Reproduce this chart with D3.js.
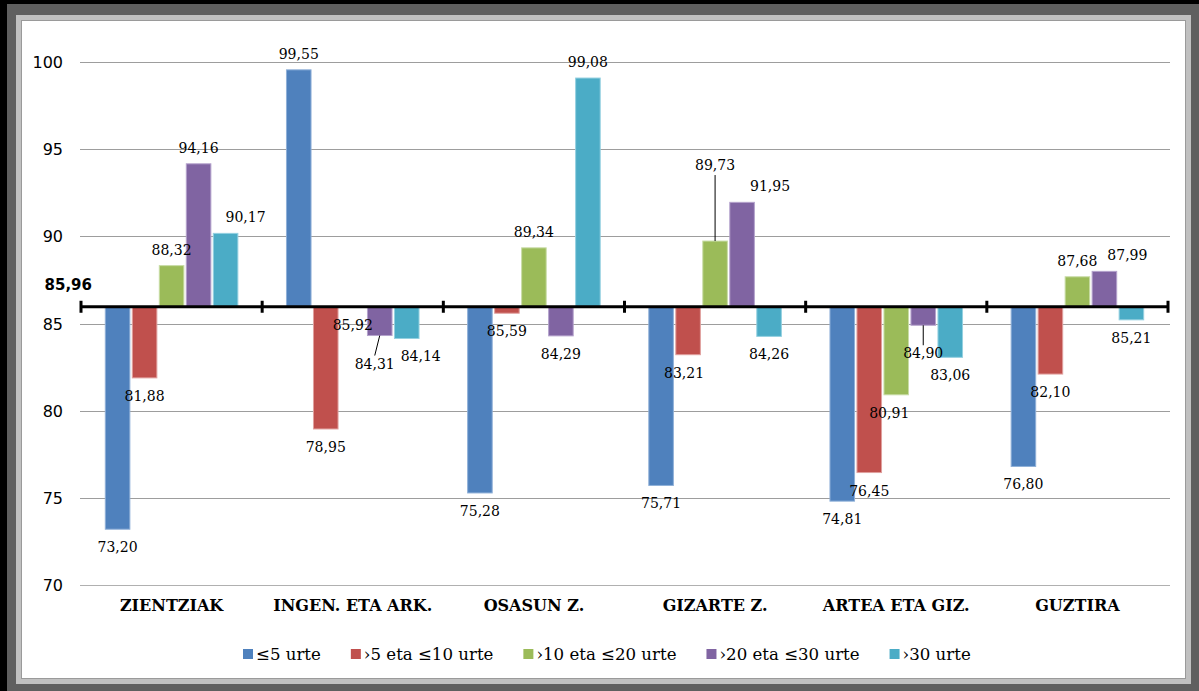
<!DOCTYPE html>
<html><head><meta charset="utf-8">
<script src="https://cdn.jsdelivr.net/npm/d3@7/dist/d3.min.js"></script>
<style>
html,body{margin:0;padding:0;background:#5f5f5f;}
svg{display:block;}
</style></head>
<body>
<script>
// ---------- DATA ----------
const categories = ["ZIENTZIAK", "INGEN. ETA ARK.", "OSASUN Z.", "GIZARTE Z.", "ARTEA ETA GIZ.", "GUZTIRA"];
const seriesNames = ["≤5 urte", "›5 eta ≤10 urte", "›10 eta ≤20 urte", "›20 eta ≤30 urte", "›30 urte"];
const valuesLe5   = [73.20, 99.55, 75.28, 75.71, 74.81, 76.80];
const values5to10 = [81.88, 78.95, 85.59, 83.21, 76.45, 82.10];
const values10to20= [88.32, 85.92, 89.34, 89.73, 80.91, 87.68];
const values20to30= [94.16, 84.31, 84.29, 91.95, 84.90, 87.99];
const valuesGt30  = [90.17, 84.14, 99.08, 84.26, 83.06, 85.21];
const baselineValue = 85.96;
const yTicks = [70, 75, 80, 85, 90, 95, 100];

// ---------- STYLE ----------
const colors = ["#4F81BD", "#C0504D", "#9BBB59", "#8064A2", "#4BACC6"];
const strokes = ["#8fb0d8", "#e0a09e", "#c8dca6", "#b4a2cc", "#94d0e0"];
// label nudges [dx, dy, leader]
const labelNudge = {
  "0-4": [20, 0], "1-3": [-5, 10, true], "1-4": [14, 0],
  "3-1": [-4, 0], "3-2": [0, -60, true], "3-3": [28, 0],
  "4-2": [-7, 0], "4-3": [0, 10, true], "5-3": [23, 0]
};

const W = 1199, H = 691;
const seriesValues = [valuesLe5, values5to10, values10to20, values20to30, valuesGt30];

const svg = d3.select("body").append("svg").attr("width", W).attr("height", H);

// frame
svg.append("rect").attr("x",0).attr("y",0).attr("width",W).attr("height",H).attr("fill","#5f5f5f");
svg.append("rect").attr("x",0).attr("y",0).attr("width",7).attr("height",H).attr("fill","#000");
svg.append("rect").attr("x",0).attr("y",0).attr("width",W).attr("height",4).attr("fill","#000");
svg.append("rect").attr("x",16).attr("y",15).attr("width",1175).attr("height",669).attr("fill","#c0c0c0");
svg.append("rect").attr("x",21.5).attr("y",20.5).attr("width",1164).attr("height",658)
  .attr("fill","#fff").attr("stroke","#9a9a9a").attr("stroke-width",1);

const x0 = d3.scaleBand().domain(categories).range([81, 1168]);
const x1 = d3.scaleBand().domain(d3.range(seriesNames.length)).range([0, x0.bandwidth()])
  .paddingInner(0.09).paddingOuter(0.9);
const y = d3.scaleLinear().domain([70, 100]).range([585, 62]);

const fmt = d3.formatLocale({decimal: ",", thousands: ".", grouping: [3], currency: ["", "€"]}).format(".2f");

// gridlines
svg.append("g").selectAll("line").data(yTicks).join("line")
  .attr("x1", 80).attr("x2", 1170)
  .attr("y1", d => Math.round(y(d)) + 0.5).attr("y2", d => Math.round(y(d)) + 0.5)
  .attr("stroke", d => d === 70 ? "#b0b0b0" : "#9d9d9d").attr("stroke-width", 1);

// y tick labels
svg.append("g").selectAll("text").data(yTicks).join("text")
  .attr("x", 63).attr("y", d => y(d) + 6)
  .attr("text-anchor", "end")
  .attr("font-family", "DejaVu Sans").attr("font-size", 16).attr("fill", "#000")
  .text(d => d);

// bars
const barData = [];
categories.forEach((c, ci) => seriesValues.forEach((vals, si) => barData.push({c, ci, si, v: vals[ci]})));

const by = y(baselineValue);
svg.append("g").selectAll("rect").data(barData).join("rect")
  .attr("x", d => x0(d.c) + x1(d.si))
  .attr("width", x1.bandwidth())
  .attr("y", d => Math.min(y(d.v), by))
  .attr("height", d => Math.abs(y(d.v) - by))
  .attr("fill", d => colors[d.si])
  .attr("stroke", d => strokes[d.si]).attr("stroke-width", 1);

// baseline axis
const axisG = svg.append("g");
axisG.append("line").attr("x1", 81).attr("x2", 1168).attr("y1", by).attr("y2", by)
  .attr("stroke", "#000").attr("stroke-width", 3);
const bounds = categories.map(c => x0(c)).concat([x0.range()[1]]);
axisG.selectAll("line.tk").data(bounds).join("line").attr("class", "tk")
  .attr("x1", d => d).attr("x2", d => d).attr("y1", by - 6).attr("y2", by + 6)
  .attr("stroke", "#000").attr("stroke-width", 3);

svg.append("text").attr("x", 92).attr("y", 290).attr("text-anchor", "end")
  .attr("font-family", "DejaVu Sans").attr("font-weight", "bold").attr("font-size", 15)
  .text(fmt(baselineValue));

// data labels
const lblG = svg.append("g");
barData.forEach(d => {
  const cx = x0(d.c) + x1(d.si) + x1.bandwidth() / 2;
  const above = d.v >= baselineValue;
  const yEnd = y(d.v);
  const n = labelNudge[d.ci + "-" + d.si] || [0, 0];
  const ly = (above ? yEnd - 11 : yEnd + 23) + n[1];
  const lx = cx + n[0];
  if (n[2]) {
    if (above) {
      lblG.append("line").attr("x1", cx).attr("x2", lx).attr("y1", yEnd).attr("y2", ly + 5)
        .attr("stroke", "#000").attr("stroke-width", 1);
    } else {
      lblG.append("line").attr("x1", cx).attr("x2", lx).attr("y1", yEnd).attr("y2", ly - 13)
        .attr("stroke", "#000").attr("stroke-width", 1);
    }
  }
  lblG.append("text").attr("x", lx).attr("y", ly).attr("text-anchor", "middle")
    .attr("font-family", "DejaVu Serif").attr("font-size", 14).attr("fill", "#000")
    .text(fmt(d.v));
});

// category labels
svg.append("g").selectAll("text").data(categories).join("text")
  .attr("x", d => x0(d) + x0.bandwidth() / 2).attr("y", 611)
  .attr("text-anchor", "middle")
  .attr("font-family", "DejaVu Serif").attr("font-weight", "bold").attr("font-size", 16)
  .text(d => d);

// legend
const leg = svg.append("g");
let lx = 243;
seriesNames.forEach((s, i) => {
  leg.append("rect").attr("x", lx).attr("y", 649).attr("width", 10).attr("height", 10).attr("fill", colors[i]);
  const t = leg.append("text").attr("x", lx + 13).attr("y", 660)
    .attr("font-family", "DejaVu Serif").attr("font-size", 16.6)
    .text(s);
  lx += 13 + t.node().getComputedTextLength() + 30;
});
</script>
</body></html>
